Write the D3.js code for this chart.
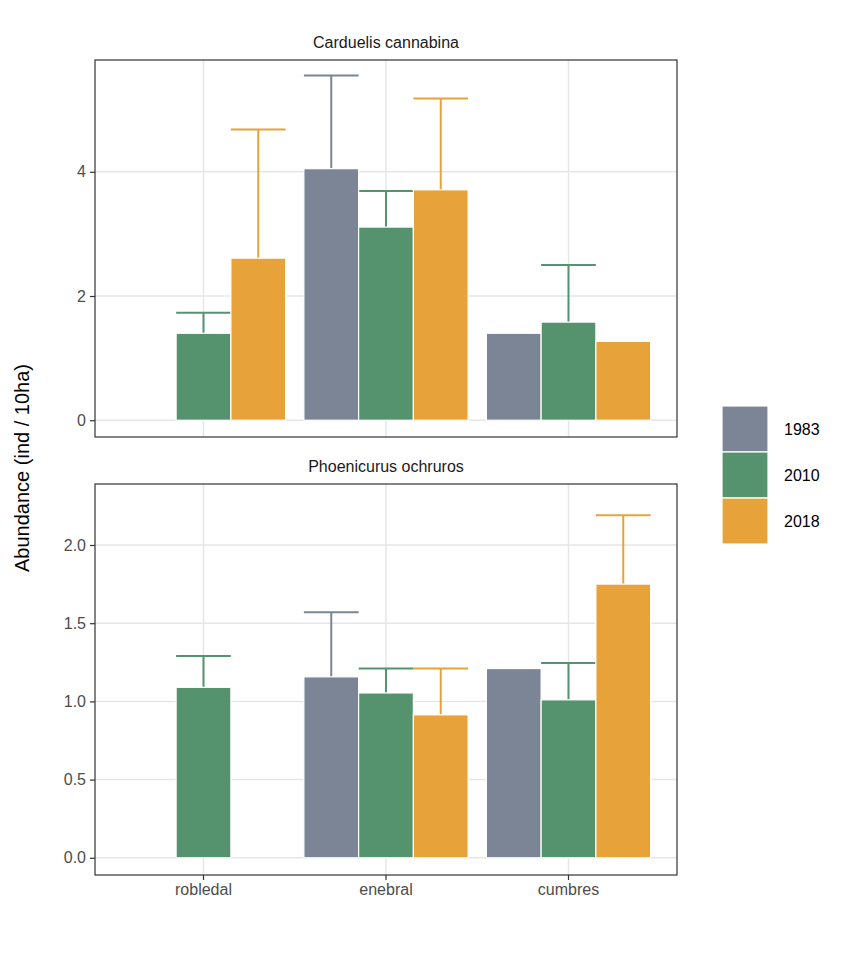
<!DOCTYPE html>
<html lang="en">
<head>
<meta charset="UTF-8">
<script src="https://d3js.org/d3.v7.min.js"></script>
<style>
  body { margin: 0; background: #fff; }
  text { font-family: "Liberation Sans", Arial, sans-serif; }
</style>
</head>
<body>
<svg id="chart" width="864" height="960"></svg>
<script>
// data
const sites = ['robledal', 'enebral', 'cumbres']
const years = ['1983', '2010', '2018']
const colours = ['#7b8595', '#55936e', '#e8a23a']
const species = ['Carduelis cannabina', 'Phoenicurus ochruros']
// mean abundance, null = no bar
const carduelisMean = [[null, 1.40, 2.61], [4.05, 3.11, 3.71], [1.40, 1.58, 1.27]]
const carduelisUpper = [[null, 1.73, 4.68], [5.55, 3.69, 5.18], [null, 2.50, null]]
const phoenicurusMean = [[null, 1.09, null], [1.157, 1.054, 0.914], [1.21, 1.01, 1.75]]
const phoenicurusUpper = [[null, 1.29, null], [1.57, 1.21, 1.21], [null, 1.246, 2.19]]

const panels = [
  { title: species[0], mean: carduelisMean, upper: carduelisUpper, top: 60, bottom: 437, domain: [-0.27, 5.8], ticks: [0, 2, 4], fmt: d3.format('d') },
  { title: species[1], mean: phoenicurusMean, upper: phoenicurusUpper, top: 484, bottom: 875, domain: [-0.11, 2.39], ticks: [0, 0.5, 1, 1.5, 2], fmt: d3.format('.1f') }
]

const svg = d3.select('#chart')
const left = 95, right = 677

const x = d3.scaleBand().domain(sites).range([left, right]).paddingInner(0).paddingOuter(0)
  .range([left + (right - left - 3 * 182.5) / 2, right - (right - left - 3 * 182.5) / 2])
const xInner = d3.scaleBand().domain(years).range([0, x.bandwidth() * 0.9])
const offset = x.bandwidth() * 0.05

panels.forEach(p => {
  const y = d3.scaleLinear().domain(p.domain).range([p.bottom, p.top])
  const g = svg.append('g')

  // grid
  g.selectAll('.hg').data(p.ticks).join('line')
    .attr('x1', left).attr('x2', right).attr('y1', d => y(d)).attr('y2', d => y(d))
    .attr('stroke', '#e6e6e6').attr('stroke-width', 1.5)
  g.selectAll('.vg').data(sites).join('line')
    .attr('x1', d => x(d) + x.bandwidth() / 2).attr('x2', d => x(d) + x.bandwidth() / 2)
    .attr('y1', p.top).attr('y2', p.bottom)
    .attr('stroke', '#e6e6e6').attr('stroke-width', 1.5)

  const rows = []
  sites.forEach((s, i) => years.forEach((yr, j) => {
    if (p.mean[i][j] != null) rows.push({ s, yr, j, v: p.mean[i][j], u: p.upper[i][j] })
  }))

  // error bars (upward half shows above bars)
  rows.filter(d => d.u != null).forEach(d => {
    const x0 = x(d.s) + offset + xInner(d.yr)
    const w = xInner.bandwidth()
    g.append('line').attr('x1', x0 + w / 2).attr('x2', x0 + w / 2)
      .attr('y1', y(d.v)).attr('y2', y(d.u)).attr('stroke', colours[d.j]).attr('stroke-width', 2)
    g.append('line').attr('x1', x0).attr('x2', x0 + w)
      .attr('y1', y(d.u)).attr('y2', y(d.u)).attr('stroke', colours[d.j]).attr('stroke-width', 2)
  })

  g.selectAll('.bar').data(rows).join('rect')
    .attr('x', d => x(d.s) + offset + xInner(d.yr))
    .attr('width', xInner.bandwidth())
    .attr('y', d => y(d.v)).attr('height', d => y(0) - y(d.v))
    .attr('fill', d => colours[d.j]).attr('stroke', '#fff').attr('stroke-width', 1.2)

  // border
  g.append('rect').attr('x', left).attr('y', p.top).attr('width', right - left).attr('height', p.bottom - p.top)
    .attr('fill', 'none').attr('stroke', '#333').attr('stroke-width', 1.2)

  // y axis
  const ax = g.append('g').attr('transform', `translate(${left},0)`)
    .call(d3.axisLeft(y).tickValues(p.ticks).tickFormat(p.fmt).tickSize(5).tickPadding(4))
  ax.select('.domain').remove()
  ax.selectAll('line').attr('stroke', '#333').attr('stroke-width', 1.2)
  ax.selectAll('text').attr('font-size', 16).attr('fill', '#4d4d4d').attr('font-family', '"Liberation Sans", Arial, sans-serif')

  g.append('text').attr('x', (left + right) / 2).attr('y', p.top - 12)
    .attr('text-anchor', 'middle').attr('font-size', 16).attr('fill', '#1a1a1a').text(p.title)
})

// x axis on bottom panel
const xa = svg.append('g').attr('transform', 'translate(0,875)')
  .call(d3.axisBottom(x).tickSize(5).tickPadding(4))
xa.select('.domain').remove()
xa.selectAll('line').attr('stroke', '#333').attr('stroke-width', 1.2)
xa.selectAll('text').attr('font-size', 16).attr('fill', '#4d4d4d').attr('font-family', '"Liberation Sans", Arial, sans-serif')

// y title
svg.append('text').attr('transform', 'translate(29,468) rotate(-90)')
  .attr('text-anchor', 'middle').attr('font-size', 20).attr('fill', '#000').text('Abundance (ind / 10ha)')

// legend
const leg = svg.append('g').attr('transform', 'translate(722,406)')
years.forEach((yr, j) => {
  leg.append('rect').attr('x', 0).attr('y', j * 46).attr('width', 46).attr('height', 46)
    .attr('fill', colours[j]).attr('stroke', '#fff').attr('stroke-width', 1.2)
  leg.append('text').attr('x', 62).attr('y', j * 46 + 29).attr('font-size', 16).attr('fill', '#000').text(yr)
})
</script>
</body>
</html>
